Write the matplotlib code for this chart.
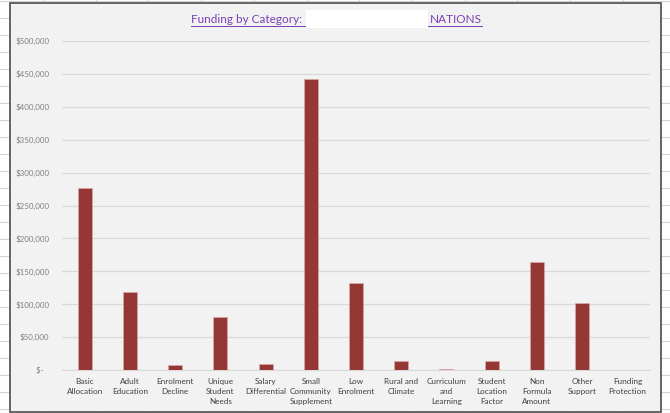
import matplotlib.pyplot as plt
from matplotlib.patches import Rectangle
from matplotlib.lines import Line2D
from matplotlib.ticker import FuncFormatter

categories = ['Basic\nAllocation', 'Adult\nEducation', 'Enrolment\nDecline', 'Unique\nStudent\nNeeds',
              'Salary\nDifferential', 'Small\nCommunity\nSupplement', 'Low\nEnrolment', 'Rural and\nClimate',
              'Curriculum\nand\nLearning', 'Student\nLocation\nFactor', 'Non\nFormula\nAmount', 'Other\nSupport',
              'Funding\nProtection']
funding = [276000, 119000, 7000, 80500, 9000, 442500, 132500, 13700, 1500, 13700, 164000, 102000, 0]
y_ticks = [0, 50000, 100000, 150000, 200000, 250000, 300000, 350000, 400000, 450000, 500000]

plt.rcParams['font.family'] = ['Lato', 'DejaVu Sans']

W, H = 670, 413
fig = plt.figure(figsize=(6.7, 4.13), dpi=100)
fig.patch.set_facecolor('white')

# spreadsheet cell lines behind the chart
for k in range(26):
    y = 1 - (1.3 + 17 * k) / H
    fig.add_artist(Line2D([0, 1], [y, y], transform=fig.transFigure, color='#d4d4d4', lw=0.8, zorder=0))
for k in range(13):
    x = (43 + 52.7 * k) / W
    fig.add_artist(Line2D([x, x], [0, 1], transform=fig.transFigure, color='#d4d4d4', lw=0.8, zorder=0))

# chart area
fig.add_artist(Rectangle((10 / W, 1 - 412 / H), 651 / W, 409 / H, transform=fig.transFigure,
                         facecolor='#f2f2f2', edgecolor='#595959', lw=1.3, zorder=1))

ax = fig.add_axes([62 / W, 1 - 370 / H, 588 / W, 329 / H])
ax.set_facecolor('#f2f2f2')
ax.set_zorder(2)

x = range(len(categories))
ax.bar(x, funding, width=0.31, color='#953735', edgecolor='#d9a9a8', linewidth=0.5, zorder=3)

ax.set_xlim(-0.5, len(categories) - 0.5)
ax.set_ylim(0, 500000)
ax.set_yticks(y_ticks)
ax.yaxis.set_major_formatter(FuncFormatter(lambda v, p: '$-   ' if v == 0 else '${:,.0f}'.format(v)))
ax.grid(axis='y', color='#d9d9d9', lw=0.9, zorder=0)
ax.set_xticks(list(x))
ax.set_xticklabels(categories, fontsize=5.9, color='#404040', linespacing=1.55)
ax.tick_params(axis='y', labelsize=5.7, labelcolor='#7f7f7f', length=0, pad=9)
ax.tick_params(axis='x', length=0, pad=5.5)
for s in ['top', 'right', 'left']:
    ax.spines[s].set_visible(False)
ax.spines['bottom'].set_color('#d9d9d9')

# title (part of it is blanked out with a white box in the reference)
purple = '#7b3fb5'
fig.text(191 / W, 1 - 19.5 / H, 'Funding by Category:', color=purple, fontsize=8.5, ha='left', va='center', zorder=5)
fig.text(482 / W, 1 - 19.5 / H, 'NATIONS', color=purple, fontsize=8.5, ha='right', va='center', zorder=5)
fig.add_artist(Line2D([191 / W, 482 / W], [1 - 25.5 / H, 1 - 25.5 / H], transform=fig.transFigure,
                      color=purple, lw=0.7, zorder=5))
fig.add_artist(Rectangle((306 / W, 1 - 28 / H), 122 / W, 18 / H, transform=fig.transFigure,
                         facecolor='white', edgecolor='none', zorder=6))

fig.savefig('out.png', dpi=100)
